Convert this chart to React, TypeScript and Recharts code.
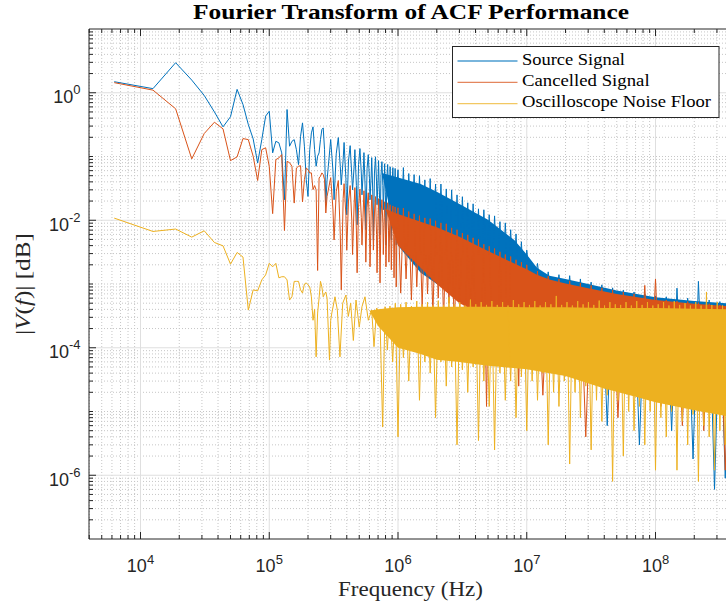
import React from 'react';
import { ComposedChart, Line, Area, XAxis, YAxis, ReferenceLine, Legend } from 'recharts';

const BLUE = '#0072BD';
const ORANGE = '#D95319';
const YELLOW = '#EDB120';
const AXIS = '#262626';

const VIEW_W = 726;
const CHART_W = 734;
const H = 607;
const X_DOMAIN = [3981, 4.07e8];
const Y_DOMAIN = [1e-7, 10];

// ---- ticks ----
const xMajorTicks = [1e4, 1e5, 1e6, 1e7, 1e8];
const xTickLabels = ['4', '5', '6', '7', '8'];
const xMinorTicks = [4e3, 5e3, 6e3, 7e3, 8e3, 9e3, 2e4, 3e4, 4e4, 5e4, 6e4, 7e4, 8e4, 9e4, 2e5, 3e5, 4e5, 5e5, 6e5, 7e5, 8e5, 9e5,
  2e6, 3e6, 4e6, 5e6, 6e6, 7e6, 8e6, 9e6, 2e7, 3e7, 4e7, 5e7, 6e7, 7e7, 8e7, 9e7, 2e8, 3e8, 4e8];
const yMajorTicks = [1e-6, 1e-4, 1e-2, 1];
const yTickLabels = ['-6', '-4', '-2', '0'];
const yMinorTicks = [2e-7, 3e-7, 4e-7, 5e-7, 6e-7, 7e-7, 8e-7, 9e-7, 2e-6, 3e-6, 4e-6, 5e-6, 6e-6, 7e-6, 8e-6, 9e-6,
  1e-5, 2e-5, 3e-5, 4e-5, 5e-5, 6e-5, 7e-5, 8e-5, 9e-5, 2e-4, 3e-4, 4e-4, 5e-4, 6e-4, 7e-4, 8e-4, 9e-4,
  1e-3, 2e-3, 3e-3, 4e-3, 5e-3, 6e-3, 7e-3, 8e-3, 9e-3, 2e-2, 3e-2, 4e-2, 5e-2, 6e-2, 7e-2, 8e-2, 9e-2,
  1e-1, 2e-1, 3e-1, 4e-1, 5e-1, 6e-1, 7e-1, 8e-1, 9e-1, 2, 3, 4, 5, 6, 7, 8, 9];

// ---- low-frequency FFT bins (Hz) ----
const binFreqs = [6250, 12500, 18750, 25000, 31250, 37500, 43750, 50000, 56250, 62500,
  68750, 75000, 81250, 87500, 93750, 100000, 106250, 112500, 118750, 125000,
  131250, 137500, 143750, 150000, 156250, 162500, 168750, 175000, 181250, 187500,
  193750, 200000, 206250, 212500, 218750, 225000, 231250, 237500, 243750, 250000,
  256250, 262500, 268750, 275000, 281250, 287500, 293750, 300000, 306250];

const sourceLow = [1.49, 1.16, 2.96, 1.58, 0.907, 0.5, 0.292, 0.42, 1.13, 0.655,
  0.318, 0.189, 0.079, 0.184, 0.43, 0.513, 0.114, 0.173, 0.164, 0.114,
  0.021, 0.546, 0.145, 0.173, 0.184, 0.128, 0.0746, 0.207, 0.337, 0.145,
  0.0433, 0.0237, 0.128, 0.235, 0.292, 0.128, 0.0703, 0.101, 0.114, 0.184,
  0.265, 0.281, 0.128, 0.0186, 0.043, 0.07];

const cancelledLow = [1.44, 1.1, 0.56, 0.0917, 0.229, 0.345, 0.271, 0.0862, 0.0985, 0.191,
  0.184, 0.101, 0.042, 0.128, 0.137, 0.07, 0.0127, 0.0893, 0.095, 0.107,
  0.0069, 0.084, 0.08, 0.0703, 0.0186, 0.066, 0.0703, 0.0718, 0.0194, 0.0433,
  0.066, 0.0622, 0.0553, 0.0553, 0.0302, 0.035, 0.03, 0.00163, 0.046, 0.049,
  0.0553, 0.052, 0.0433, 0.013, 0.0237];

const noiseLow = [0.0108, 0.00667, 0.00728, 0.00544, 0.00683, 0.00448, 0.00397, 0.00205, 0.00312, 0.00265,
  0.00039, 0.00081, 0.00078, 0.00116, 0.00139, 0.00211, 0.00186, 0.00211, 0.00125, 0.0013,
  0.0013, 0.00116, 0.00056, 0.00063, 0.0011, 0.0011, 0.0011, 0.00081, 0.00072, 0.001,
  0.00104, 0.00097, 0.0009, 0.00063, 0.00027, 0.0004, 0.000072, 0.00035, 0.0006, 0.0011,
  0.0009, 0.00063, 0.0007, 0.00075, 0.0006, 0.00019, 0.000064, 0.00027, 0.00035];

// ---- comb region 0.3-1 MHz (Hz) ----
const combFreqs = [300000, 312500, 318750, 331250, 343750, 356250, 362500, 375000, 381250, 393750,
  400000, 412500, 425000, 437500, 443750, 456250, 462500, 475000, 481250, 493750,
  506250, 518750, 525000, 537500, 543750, 556250, 562500, 575000, 587500, 600000,
  606250, 618750, 625000, 637500, 643750, 656250, 668750, 681250, 687500, 700000,
  706250, 718750, 725000, 737500, 750000, 762500, 768750, 781250, 787500, 800000,
  806250, 818750, 831250, 843750, 850000, 862500, 868750, 881250, 887500, 900000,
  912500, 925000, 931250, 943750, 950000, 962500, 968750, 981250];

const sourceComb = [0.184, 0.06, 0.021, 0.11, 0.198, 0.07, 0.036, 0.09, 0.166, 0.045,
  0.0122, 0.085, 0.148, 0.05, 0.03, 0.07, 0.128, 0.035, 0.0085, 0.075,
  0.133, 0.055, 0.025, 0.06, 0.115, 0.03, 0.0071, 0.065, 0.107, 0.045,
  0.021, 0.05, 0.096, 0.025, 0.0049, 0.055, 0.099, 0.04, 0.0175, 0.045,
  0.086, 0.022, 0.0059, 0.05, 0.083, 0.035, 0.0146, 0.04, 0.077, 0.02,
  0.0041, 0.045, 0.075, 0.03, 0.0137, 0.035, 0.069, 0.018, 0.0049, 0.04,
  0.067, 0.028, 0.0122, 0.032, 0.065, 0.016, 0.0041, 0.035];

const cancelledComb = [0.0466, 0.015, 0.0049, 0.028, 0.042, 0.006, 0.00081, 0.022, 0.0375, 0.012,
  0.0034, 0.02, 0.035, 0.01, 0.0029, 0.018, 0.0325, 0.007, 0.0015, 0.016,
  0.031, 0.011, 0.0041, 0.015, 0.029, 0.008, 0.0022, 0.016, 0.027, 0.009,
  0.00186, 0.013, 0.025, 0.01, 0.0034, 0.013, 0.0235, 0.006, 0.0015, 0.012,
  0.0218, 0.005, 0.00104, 0.012, 0.021, 0.009, 0.0029, 0.011, 0.0195, 0.006,
  0.00186, 0.01, 0.0188, 0.007, 0.0022, 0.009, 0.0175, 0.005, 0.00167, 0.009,
  0.0168, 0.006, 0.00125, 0.008, 0.0162, 0.004, 0.0009, 0.008];

const noiseMidFreqs = [324000, 338000, 354000, 372000, 394000, 411000, 429000, 450000, 472000, 500000,
  525000, 554000, 588000, 625000, 651000, 683000, 724000, 760000, 793000, 826000];
const noiseMid = [6.3e-4, 3.9e-4, 7.2e-5, 5.0e-4, 6.7e-4, 3.1e-4, 5.0e-4, 1.3e-4, 5.6e-4, 2.1e-4,
  4.4e-4, 6.3e-4, 2.7e-4, 3.9e-4, 1.04e-4, 4.2e-4, 3.1e-4, 5.7e-6, 4.4e-4, 9.2e-5];

// ---- dense region (alternating crest / trough samples), Hz ----
const denseFreqs = [
  1.0e6, 1.049e6, 1.101e6, 1.155e6, 1.212e6, 1.271e6, 1.334e6, 1.399e6, 1.468e6, 1.54e6, 1.616e6, 1.695e6,
  1.778e6, 1.866e6, 1.957e6, 2.054e6, 2.154e6, 2.26e6, 2.371e6, 2.487e6, 2.61e6, 2.738e6, 2.873e6, 3.014e6,
  3.162e6, 3.317e6, 3.481e6, 3.652e6, 3.831e6, 4.019e6, 4.217e6, 4.424e6, 4.642e6, 4.87e6, 5.109e6, 5.36e6,
  5.623e6, 5.9e6, 6.19e6, 6.494e6, 6.813e6, 7.148e6, 7.499e6, 7.867e6, 8.254e6, 8.66e6, 9.085e6, 9.532e6,
  1.0e7, 1.101e7, 1.212e7, 1.334e7, 1.468e7, 1.616e7, 1.778e7, 1.957e7, 2.154e7, 2.371e7, 2.61e7, 2.873e7,
  3.162e7, 3.481e7, 3.831e7, 4.217e7, 4.642e7, 5.109e7, 5.623e7, 6.19e7, 6.813e7, 7.499e7, 8.254e7, 9.085e7,
  1.0e8, 1.101e8, 1.212e8, 1.334e8, 1.468e8, 1.616e8, 1.778e8, 1.957e8, 2.154e8, 2.371e8, 2.61e8, 2.873e8,
  3.162e8, 3.481e8, 3.831e8, 4.217e8];

const sourceDense = [
  0.062, 0.0049, 0.067, 0.0034, 0.054, 0.0059, 0.052, 0.0029, 0.05, 0.0049, 0.043, 0.0024,
  0.045, 0.0034, 0.037, 0.002, 0.037, 0.0028, 0.031, 0.0019, 0.03, 0.0025, 0.025, 0.0016,
  0.0234, 0.0022, 0.0188, 0.0014, 0.0181, 0.0018, 0.0151, 0.0012, 0.0146, 0.0016, 0.0122, 0.0011,
  0.0117, 0.0013, 0.0095, 0.0009, 0.0091, 0.0011, 0.0071, 0.0008, 0.0061, 0.0009, 0.0046, 0.0007,
  0.0034, 5.6e-4, 0.0021, 3.9e-4, 0.00155, 2.7e-4, 0.0014, 1.9e-4, 0.00135, 1.3e-4, 0.0012, 9.2e-5,
  0.00107, 6.4e-5, 0.00097, 6e-6, 8.7e-4, 4e-5, 8e-4, 3e-5, 7.5e-4, 3e-6, 7e-4, 2e-5,
  6.5e-4, 1.5e-5, 6.3e-4, 5e-6, 8.6e-4, 1.5e-5, 6e-4, 1.8e-6, 1.1e-3, 1e-5, 5.6e-4, 6e-7,
  5.3e-4, 9e-7, 5e-4, 1e-5];

const cancelledDense = [
  0.0157, 7.2e-4, 0.0155, 0.0012, 0.0137, 5.6e-4, 0.0126, 9e-4, 0.0118, 4.4e-4, 0.0109, 7e-4,
  0.0106, 3.3e-4, 0.0098, 6e-4, 0.0091, 2.7e-4, 0.0088, 5e-4, 0.0076, 1.9e-4, 0.0071, 4e-4,
  0.0063, 1.6e-4, 0.0059, 3e-4, 0.0053, 1.3e-4, 0.005, 2.5e-4, 0.0042, 1.2e-5, 0.0039, 2e-4,
  0.0036, 6e-5, 0.0032, 1.5e-4, 0.0029, 8e-5, 0.0027, 1.2e-4, 0.0024, 2.5e-5, 0.0022, 1e-4,
  0.002, 6e-5, 0.0016, 1.8e-5, 0.00133, 5e-5, 0.0012, 4e-5, 0.00112, 5e-5, 0.00104, 4e-6,
  9.5e-4, 4e-5, 8.7e-4, 3e-5, 8.1e-4, 8e-6, 7.5e-4, 3e-5, 7e-4, 2.5e-5, 9.5e-4, 2e-5,
  1.2e-3, 1.2e-5, 5.6e-4, 2e-5, 5.4e-4, 6e-6, 5.3e-4, 2e-5, 5.1e-4, 5e-6, 4.9e-4, 1.5e-5,
  4.7e-4, 1.2e-6, 4.6e-4, 1e-5];

const noiseDenseFreqs = [
  8.66e5, 9.09e5, 9.53e5,
  1.0e6, 1.049e6, 1.101e6, 1.155e6, 1.212e6, 1.271e6, 1.334e6, 1.399e6, 1.468e6, 1.54e6, 1.616e6, 1.695e6,
  1.778e6, 1.866e6, 1.957e6, 2.054e6, 2.154e6, 2.26e6, 2.371e6, 2.487e6, 2.61e6, 2.738e6, 2.873e6, 3.014e6,
  3.162e6, 3.317e6, 3.481e6, 3.652e6, 3.831e6, 4.019e6, 4.217e6, 4.424e6, 4.642e6, 4.87e6, 5.109e6, 5.36e6,
  5.623e6, 5.9e6, 6.19e6, 6.494e6, 6.813e6, 7.148e6, 7.499e6, 7.867e6, 8.254e6, 8.66e6, 9.085e6, 9.532e6,
  1.0e7, 1.049e7, 1.101e7, 1.155e7, 1.212e7, 1.271e7, 1.334e7, 1.399e7, 1.468e7, 1.54e7, 1.616e7, 1.695e7,
  1.778e7, 1.866e7, 1.957e7, 2.054e7, 2.154e7, 2.26e7, 2.371e7, 2.487e7, 2.61e7, 2.738e7, 2.873e7, 3.014e7,
  3.162e7, 3.317e7, 3.481e7, 3.652e7, 3.831e7, 4.019e7, 4.217e7, 4.424e7, 4.642e7, 4.87e7, 5.109e7, 5.36e7,
  5.623e7, 5.9e7, 6.19e7, 6.494e7, 6.813e7, 7.148e7, 7.499e7, 7.867e7, 8.254e7, 8.66e7, 9.085e7, 9.532e7,
  1.0e8, 1.049e8, 1.101e8, 1.155e8, 1.212e8, 1.271e8, 1.334e8, 1.399e8, 1.468e8, 1.54e8, 1.616e8, 1.695e8,
  1.778e8, 1.866e8, 1.957e8, 2.054e8, 2.154e8, 2.26e8, 2.371e8, 2.487e8, 2.61e8, 2.738e8, 2.873e8, 3.014e8,
  3.162e8, 3.317e8, 3.481e8, 3.652e8, 3.831e8, 4.019e8, 4.217e8];

const noiseDense = [
  4.5e-4, 6e-5, 5e-4,
  4e-6, 4.8e-4, 7e-5, 5.2e-4, 3e-5, 4.5e-4, 9e-5, 5.4e-4, 1.5e-5, 4.8e-4, 6e-5, 5.2e-4,
  4e-5, 4.6e-4, 8e-6, 5.5e-4, 6e-5, 4.7e-4, 2.5e-5, 6.2e-4, 5e-5, 4.8e-4, 3e-6, 5.2e-4,
  4.5e-5, 4.6e-4, 2e-5, 5.7e-4, 5e-5, 4.8e-4, 3.5e-6, 5.2e-4, 3e-5, 4.7e-4, 1.2e-5, 5.4e-4,
  2.5e-6, 4.7e-4, 4e-5, 5.2e-4, 1.5e-5, 4.6e-4, 3e-5, 5.6e-4, 8e-6, 4.8e-4, 3.5e-5, 5.2e-4,
  5e-6, 4.7e-4, 3e-5, 5.4e-4, 1.5e-5, 4.6e-4, 4e-5, 5.2e-4, 3e-6, 4.8e-4, 2e-5, 6.5e-4,
  1.2e-5, 4.7e-4, 3e-5, 5.2e-4, 1.5e-6, 4.6e-4, 2e-5, 5.4e-4, 8e-6, 4.8e-4, 2.5e-5, 5.2e-4,
  2.5e-6, 4.7e-4, 1.5e-5, 5.5e-4, 7e-6, 4.6e-4, 1.8e-5, 5.2e-4, 8e-7, 4.8e-4, 1.5e-5, 4.7e-4,
  2e-6, 5.2e-4, 1e-5, 4.6e-4, 5e-6, 5.4e-4, 1.2e-5, 4.7e-4, 3e-6, 5.2e-4, 1e-5, 4.6e-4,
  1.2e-6, 4.8e-4, 8e-6, 5.2e-4, 4e-6, 4.6e-4, 1e-5, 5.4e-4, 1.2e-6, 4.7e-4, 7e-6, 5e-4,
  3e-6, 4.6e-4, 9e-6, 5.2e-4, 8e-7, 4.6e-4, 6e-6, 7.5e-4, 4e-6, 4.7e-4, 1.2e-6, 5.2e-4,
  5e-6, 4.6e-4, 3e-6, 4.8e-4, 7e-6, 4.7e-4, 5e-6];

// ---- solid core of the dense bands ----
const sourceBandFreqs = [7.5e5, 1e6, 1.5e6, 2e6, 3e6, 5e6, 8e6, 1e7, 1.2e7, 1.5e7, 2e7, 3e7, 5e7, 1e8, 2e8, 4.1e8];
const sourceBandHigh = [0.055, 0.047, 0.037, 0.028, 0.018, 0.0102, 0.0049, 0.0029, 0.0018, 0.00135, 0.0012, 0.001, 7.9e-4, 6.2e-4, 5.4e-4, 4.9e-4];
const sourceBandLow = [0.055, 0.004, 0.0015, 0.001, 7e-4, 5e-4, 4e-4, 3.5e-4, 3e-4, 2.5e-4, 2e-4, 1.2e-4, 8e-5, 5e-5, 4e-5, 3e-5];
const cancelledBandFreqs = [8e5, 1e6, 1.5e6, 2e6, 3e6, 5e6, 8e6, 1e7, 1.2e7, 1.5e7, 2e7, 3e7, 5e7, 1e8, 2e8, 4.1e8];
const cancelledBandHigh = [0.015, 0.0125, 0.0095, 0.0078, 0.0055, 0.0033, 0.0021, 0.0017, 0.0014, 0.00118, 0.00102, 8.6e-4, 7e-4, 5.6e-4, 4.9e-4, 4.4e-4];
const cancelledBandLow = [0.015, 0.004, 0.0018, 0.001, 5e-4, 3e-4, 2e-4, 1.6e-4, 1.4e-4, 1.2e-4, 1e-4, 8e-5, 6e-5, 4e-5, 3e-5, 2.5e-5];
const noiseBandFreqs = [6e5, 7e5, 1e6, 1.5e6, 2e6, 3e6, 5e6, 1e7, 2e7, 4e7, 7e7, 1e8, 2e8, 4.1e8];
const noiseBandHigh = [3.8e-4, 4.0e-4, 4.3e-4, 4.4e-4, 4.4e-4, 4.4e-4, 4.4e-4, 4.3e-4, 4.3e-4, 4.2e-4, 4.2e-4, 4.2e-4, 4.1e-4, 4.0e-4];
const noiseBandLow = [3.8e-4, 2.2e-4, 1.0e-4, 8e-5, 6.5e-5, 6e-5, 5.2e-5, 4.6e-5, 3.6e-5, 2.3e-5, 1.7e-5, 1.4e-5, 1.05e-5, 8e-6];

const legendEntries = [
  { label: 'Source Signal', color: BLUE, len: 103 },
  { label: 'Cancelled Signal', color: ORANGE, len: 127.6 },
  { label: 'Oscilloscope Noise Floor', color: YELLOW, len: 189 },
];

// ---- build series ----
const pts = (fs: number[], vs: number[]) => vs.map((v, i) => ({ f: fs[i], v }));
const band = (fs: number[], lo: number[], hi: number[]) => fs.map((f, i) => ({ f, r: [lo[i], hi[i]] }));

const sourceData = [...pts(binFreqs, sourceLow), ...pts(combFreqs, sourceComb), ...pts(denseFreqs, sourceDense)];
const cancelledData = [...pts(binFreqs, cancelledLow), ...pts(combFreqs, cancelledComb), ...pts(denseFreqs, cancelledDense)];
const noiseData = [...pts(binFreqs, noiseLow), ...pts(noiseMidFreqs, noiseMid), ...pts(noiseDenseFreqs, noiseDense)];
const sourceBand = band(sourceBandFreqs, sourceBandLow, sourceBandHigh);
const cancelledBand = band(cancelledBandFreqs, cancelledBandLow, cancelledBandHigh);
const noiseBand = band(noiseBandFreqs, noiseBandLow, noiseBandHigh);

const xTicksAll = [...xMajorTicks, ...xMinorTicks].sort((a, b) => a - b);
const yTicksAll = [...yMajorTicks, ...yMinorTicks].sort((a, b) => a - b);

const majorIndex = (v: number, arr: number[]) => arr.findIndex((m) => Math.abs(Math.log10(v / m)) < 1e-6);
const SANS = "'Liberation Sans', Arial, Helvetica, sans-serif";
const SERIF = "'Liberation Serif', 'Times New Roman', serif";
const MINOR_GRID = '#c6c6c6';
const MAJOR_GRID = '#dfdfdf';

function BottomTick(props: any) {
  const { x, y, payload } = props;
  const idx = majorIndex(payload.value, xMajorTicks);
  const major = idx >= 0;
  return (
    <g>
      <line x1={x} x2={x} y1={y} y2={y - (major ? 7 : 4)} stroke={AXIS} strokeWidth={1} />
      {major && (
        <text x={x} y={y + 33} textAnchor="middle" fill={AXIS} fontFamily={SANS} fontSize={18}>
          10<tspan dy={-8.5} fontSize={13}>{xTickLabels[idx]}</tspan>
        </text>
      )}
    </g>
  );
}

function TopTick(props: any) {
  const { x, y, payload } = props;
  const major = majorIndex(payload.value, xMajorTicks) >= 0;
  return <line x1={x} x2={x} y1={y} y2={y + (major ? 7 : 4)} stroke={AXIS} strokeWidth={1} />;
}

function LeftTick(props: any) {
  const { x, y, payload } = props;
  const idx = majorIndex(payload.value, yMajorTicks);
  const major = idx >= 0;
  return (
    <g>
      <line x1={x} x2={x + (major ? 7 : 4)} y1={y} y2={y} stroke={AXIS} strokeWidth={1} />
      {major && (
        <text x={x - 8.5} y={y + 10.5} textAnchor="end" fill={AXIS} fontFamily={SANS} fontSize={18}>
          10<tspan dy={-9} fontSize={13}>{yTickLabels[idx]}</tspan>
        </text>
      )}
    </g>
  );
}

function LegendBox() {
  const lineY = [15, 36.3, 57.6];
  const textY = [18.6, 40, 61.4];
  return (
    <svg width={268} height={73} style={{ display: 'block' }}>
      <rect x={0.5} y={0.5} width={266.5} height={71} fill="#ffffff" stroke={AXIS} strokeWidth={1} />
      {legendEntries.map((e, i) => (
        <g key={e.label}>
          <line x1={5.5} x2={65.5} y1={lineY[i]} y2={lineY[i]} stroke={e.color} strokeWidth={1.3} strokeOpacity={0.7} />
          <text x={70} y={textY[i]} fontFamily={SERIF} fontSize={17.5} fill="#000" textLength={e.len} lengthAdjust="spacingAndGlyphs">
            {e.label}
          </text>
        </g>
      ))}
    </svg>
  );
}

export default function App() {
  return (
    <div style={{ position: 'relative', width: VIEW_W, height: H, overflow: 'hidden', background: '#fff' }}>
      <style>{'html{overflow:hidden;} body{margin:0;}'}</style>
      <ComposedChart width={CHART_W} height={H} margin={{ top: 28, right: 0, bottom: 0, left: 8 }}>
        {yMinorTicks.map((v) => (
          <ReferenceLine key={'ym' + v} y={v} stroke={MINOR_GRID} strokeDasharray="1 2" strokeWidth={1} zIndex={-90} />
        ))}
        {xMinorTicks.map((v) => (
          <ReferenceLine key={'xm' + v} x={v} stroke={MINOR_GRID} strokeDasharray="1 2" strokeWidth={1} zIndex={-90} />
        ))}
        {yMajorTicks.map((v) => (
          <ReferenceLine key={'yM' + v} y={v} stroke={MAJOR_GRID} strokeWidth={1} zIndex={-80} />
        ))}
        {xMajorTicks.map((v) => (
          <ReferenceLine key={'xM' + v} x={v} stroke={MAJOR_GRID} strokeWidth={1} zIndex={-80} />
        ))}

        <Area data={sourceBand} dataKey="r" type="linear" stroke="none" fill={BLUE} fillOpacity={1}
          dot={false} activeDot={false} legendType="none" isAnimationActive={false} zIndex={100} />
        <Line data={sourceData} dataKey="v" type="linear" stroke={BLUE} strokeWidth={1} dot={false}
          activeDot={false} legendType="none" isAnimationActive={false} zIndex={101} />
        <Area data={cancelledBand} dataKey="r" type="linear" stroke="none" fill={ORANGE} fillOpacity={1}
          dot={false} activeDot={false} legendType="none" isAnimationActive={false} zIndex={102} />
        <Line data={cancelledData} dataKey="v" type="linear" stroke={ORANGE} strokeWidth={1} dot={false}
          activeDot={false} legendType="none" isAnimationActive={false} zIndex={103} />
        <Area data={noiseBand} dataKey="r" type="linear" stroke="none" fill={YELLOW} fillOpacity={1}
          dot={false} activeDot={false} legendType="none" isAnimationActive={false} zIndex={104} />
        <Line data={noiseData} dataKey="v" type="linear" stroke={YELLOW} strokeWidth={1} dot={false}
          activeDot={false} legendType="none" isAnimationActive={false} zIndex={105} />

        <XAxis dataKey="f" type="number" scale="log" domain={X_DOMAIN} allowDataOverflow ticks={xTicksAll}
          interval={0} height={68} tickSize={0} tickMargin={0} tickLine={false} tick={BottomTick}
          axisLine={{ stroke: AXIS, strokeWidth: 1 }} />
        <XAxis xAxisId="top" orientation="top" dataKey="f" type="number" scale="log" domain={X_DOMAIN}
          allowDataOverflow ticks={xTicksAll} interval={0} height={1} tickSize={0} tickMargin={0}
          tickLine={false} tick={TopTick} axisLine={{ stroke: AXIS, strokeWidth: 1 }} />
        <YAxis type="number" scale="log" domain={Y_DOMAIN} allowDataOverflow ticks={yTicksAll} interval={0}
          width={81} tickSize={0} tickMargin={0} tickLine={false} tick={LeftTick}
          axisLine={{ stroke: AXIS, strokeWidth: 1 }} />

        <Legend layout="horizontal" verticalAlign="middle" align="center" content={() => <LegendBox />}
          wrapperStyle={{ position: 'absolute', left: 451.5, top: 45.5, width: 268, height: 73, margin: 0, padding: 0 }} />
      </ComposedChart>
      <svg width={VIEW_W} height={H} style={{ position: 'absolute', left: 0, top: 0, pointerEvents: 'none' }}>
        <text x={411} y={18.5} textAnchor="middle" fontFamily={SERIF} fontWeight="bold" fontSize={20} fill="#000"
          textLength={436} lengthAdjust="spacingAndGlyphs">
          Fourier Transform of ACF Performance
        </text>
        <text x={410.5} y={596} textAnchor="middle" fontFamily={SERIF} fontSize={20.5} fill={AXIS}
          textLength={145} lengthAdjust="spacingAndGlyphs">
          Frequency (Hz)
        </text>
        <text transform="translate(30,284) rotate(-90)" textAnchor="middle" fontFamily={SERIF} fontSize={20.5}
          fill={AXIS} textLength={102} lengthAdjust="spacingAndGlyphs">
          |<tspan fontStyle="italic">V</tspan>(<tspan fontStyle="italic">f</tspan>)| [dB]
        </text>
      </svg>
    </div>
  );
}
